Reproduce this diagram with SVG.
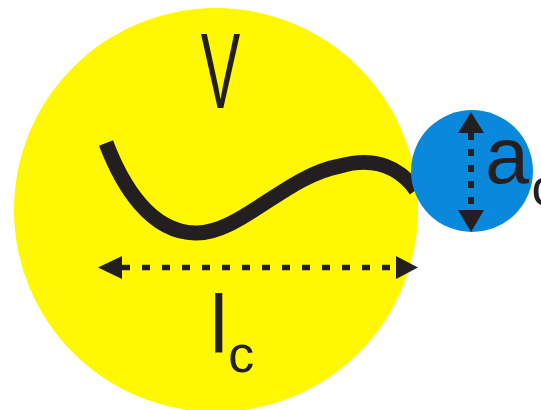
<svg xmlns="http://www.w3.org/2000/svg" width="541" height="410" viewBox="0 0 541 410">
<style>
.lbl{font-family:"Liberation Sans",Arial,sans-serif;fill:#231f20}
.head{fill:#231f20}
.dash{stroke:#231f20;fill:none}
</style>
<rect width="541" height="410" fill="#ffffff"/>
<g id="volume">
<circle cx="216" cy="210" r="202" fill="#fff800"/>
<text class="lbl" font-size="107" text-anchor="middle" transform="translate(220.5,108) scale(0.553,1)">V</text>
</g>
<g id="chain">
<path d="M106,143 C122,185 150,232 195,233 C240,234 285,176 340,166 C375,156 400,168 416,190" fill="none" stroke="#231f20" stroke-width="15"/>
</g>
<g id="monomer">
<circle cx="472" cy="171" r="61" fill="#0a88dc"/>
</g>
<g id="connectors">
<line class="dash" x1="471" y1="133" x2="471" y2="210" stroke-width="6" stroke-dasharray="7 9"/>
<polygon class="head" points="471,112 458,133 484,133"/>
<polygon class="head" points="471,232 458,210 484,210"/>
<line class="dash" x1="122" y1="267.5" x2="396" y2="267.5" stroke-width="5.5" stroke-dasharray="8 12"/>
<polygon class="head" points="98,267.5 122,256 122,279"/>
<polygon class="head" points="418,267.5 396,256 396,279"/>
</g>
<g id="labels">
<text class="lbl" x="485" y="183" font-size="79">a</text>
<text class="lbl" x="531.5" y="205" font-size="52">c</text>
<text class="lbl" x="209.7" y="352" font-size="81">l</text>
<text class="lbl" x="228.3" y="372" font-size="52">c</text>
</g>
</svg>
